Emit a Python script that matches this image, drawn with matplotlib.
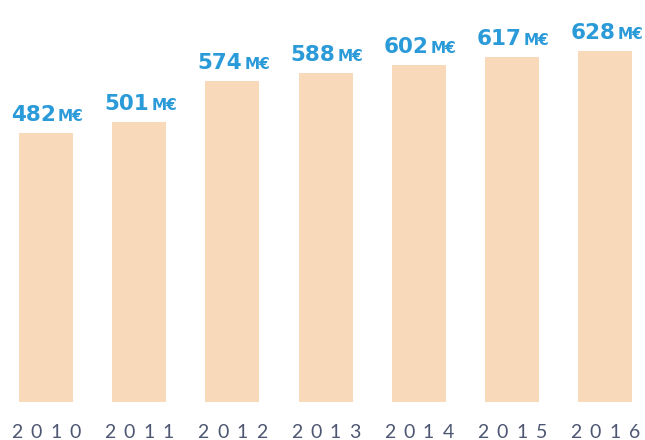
import matplotlib
matplotlib.use('Agg')
import matplotlib.pyplot as plt

years = ['2010', '2011', '2012', '2013', '2014', '2015', '2016']
values = [482, 501, 574, 588, 602, 617, 628]

BAR = '#f8d9b9'
BLUE = '#2a9ad8'
GREY = '#4d5672'

fig = plt.figure(figsize=(6.45, 4.4), dpi=100)
# axes in pixel terms: bottom at y=402 px, top at 0
ax = fig.add_axes([0, 38 / 440, 1, 402 / 440])
x = list(range(len(years)))
ax.bar(x, values, width=0.58, color=BAR)
ax.set_xlim(-46 / 93.2, (645 - 46) / 93.2)
ax.set_ylim(0, 402 / 0.559)
ax.axis('off')

for i, v in enumerate(values):
    ax.annotate(str(v), (i, v), xytext=(10, 12), textcoords='offset pixels',
                ha='right', va='baseline', fontsize=15.5, fontweight='bold',
                color=BLUE, family='DejaVu Sans')
    ax.annotate('M€', (i, v), xytext=(12, 12), textcoords='offset pixels',
                ha='left', va='baseline', fontsize=11, fontweight='bold',
                color=BLUE, family='DejaVu Sans')
    # spaced-out year digits
    for k, ch in enumerate(years[i]):
        ax.annotate(ch, (i, 0), xytext=((k - 1.5) * 19.5, -30), textcoords='offset pixels',
                    ha='center', va='center', fontsize=14, color=GREY,
                    family='Lato', annotation_clip=False)

fig.savefig('out.png', dpi=100)
